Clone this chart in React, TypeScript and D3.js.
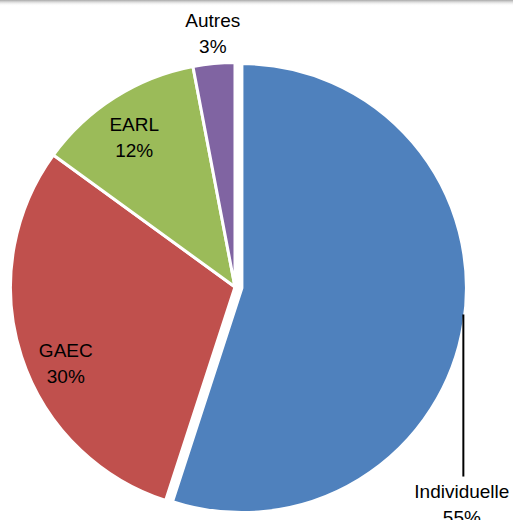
import React from 'react';
import * as d3 from 'd3';

// Répartition des exploitations par forme juridique
const categories = ['Individuelle', 'GAEC', 'EARL', 'Autres'];
const shares = [55, 30, 12, 3];
const colors = ['#4F81BD', '#C0504D', '#9BBB59', '#8064A2'];

// label placement (angle in degrees clockwise from top, radius as fraction of r)
const labelAngle = [133.8, 245.7, 326.1, 355];
const labelRadius = [1.4, 0.827, 0.805, 1.135];
const explode = [7, 0, 0, 0];

const W = 513;
const H = 520;
const cx = 235;
const cy = 287;
const r = 224.5;

export default function App() {
  const pie = d3.pie<number>().sort(null).value(d => d)(shares);
  const arc = d3.arc<d3.PieArcDatum<number>>().innerRadius(0).outerRadius(r);
  const rad = (deg: number) => (deg * Math.PI) / 180;

  return (
    <svg width={W} height={H} style={{ position: 'absolute', left: 0, top: 0 }}>
      <defs>
        <linearGradient id="topShade" x1="0" y1="0" x2="0" y2="1">
          <stop offset="0" stopColor="#a8a8a8" />
          <stop offset="1" stopColor="#ffffff" stopOpacity="0" />
        </linearGradient>
      </defs>
      <rect width={W} height={H} fill="#fff" />
      <rect width={W} height={6} fill="url(#topShade)" />
      <g transform={`translate(${cx},${cy})`}>
        {pie.map((p, i) => {
          const mid = (p.startAngle + p.endAngle) / 2;
          const dx = Math.sin(mid) * explode[i];
          const dy = -Math.cos(mid) * explode[i];
          return (
            <path
              key={categories[i]}
              d={arc(p) || ''}
              transform={`translate(${dx},${dy})`}
              fill={colors[i]}
              stroke="#fff"
              strokeWidth={3}
              strokeLinejoin="round"
            />
          );
        })}
        {pie.map((p, i) => {
          const a = rad(labelAngle[i]);
          const lx = Math.sin(a) * r * labelRadius[i];
          const ly = -Math.cos(a) * r * labelRadius[i];
          const outside = labelRadius[i] > 1.2;
          let leader: React.ReactNode = null;
          if (outside) {
            // vertical leader from the slice edge down to the label
            const mid = (p.startAngle + p.endAngle) / 2;
            const ox = Math.sin(mid) * explode[i];
            const oy = -Math.cos(mid) * explode[i];
            const edgeY = oy + Math.sqrt(Math.max(0, (r - 1.5) ** 2 - (lx + 1.5 - ox) ** 2));
            leader = (
              <line
                x1={lx + 1.5}
                x2={lx + 1.5}
                y1={edgeY}
                y2={ly - 28}
                stroke="#000"
                strokeWidth={2}
              />
            );
          }
          return (
            <g key={'lab' + i}>
              {leader}
              <text
                x={lx}
                y={ly - 13}
                textAnchor="middle"
                dominantBaseline="central"
                fontFamily="'Liberation Sans', Arial, sans-serif"
                fontSize={19}
                fill="#000"
              >
                {categories[i]}
              </text>
              <text
                x={lx}
                y={ly + 13}
                textAnchor="middle"
                dominantBaseline="central"
                fontFamily="'Liberation Sans', Arial, sans-serif"
                fontSize={19}
                fill="#000"
              >
                {shares[i]}%
              </text>
            </g>
          );
        })}
      </g>
    </svg>
  );
}
